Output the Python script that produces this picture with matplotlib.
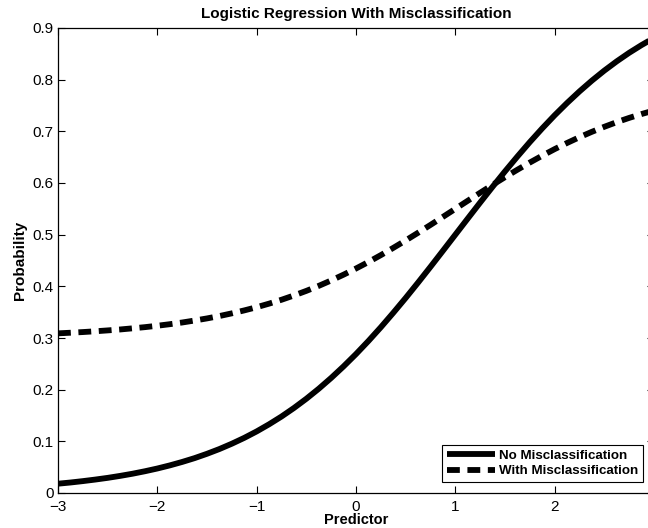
import numpy as np
import matplotlib.pyplot as plt

# predictor grid and the two probability curves
predictor = [-3.0, -2.875, -2.75, -2.625, -2.5, -2.375, -2.25, -2.125,
             -2.0, -1.875, -1.75, -1.625, -1.5, -1.375, -1.25, -1.125,
             -1.0, -0.875, -0.75, -0.625, -0.5, -0.375, -0.25, -0.125,
             0.0, 0.125, 0.25, 0.375, 0.5, 0.625, 0.75, 0.875,
             1.0, 1.125, 1.25, 1.375, 1.5, 1.625, 1.75, 1.875,
             2.0, 2.125, 2.25, 2.375, 2.5, 2.625, 2.75, 2.875, 3.0]
no_miscl = [0.0180, 0.0203, 0.0230, 0.0260, 0.0293, 0.0331, 0.0373, 0.0421,
            0.0474, 0.0534, 0.0601, 0.0675, 0.0759, 0.0851, 0.0954, 0.1067,
            0.1192, 0.1330, 0.1480, 0.1645, 0.1824, 0.2018, 0.2227, 0.2451,
            0.2689, 0.2942, 0.3208, 0.3487, 0.3775, 0.4073, 0.4378, 0.4688,
            0.5000, 0.5312, 0.5622, 0.5927, 0.6225, 0.6513, 0.6792, 0.7058,
            0.7311, 0.7549, 0.7773, 0.7982, 0.8176, 0.8355, 0.8520, 0.8670, 0.8808]
with_miscl = [0.3090, 0.3102, 0.3115, 0.3130, 0.3147, 0.3165, 0.3187, 0.3210,
              0.3237, 0.3267, 0.3300, 0.3338, 0.3379, 0.3425, 0.3477, 0.3534,
              0.3596, 0.3665, 0.3740, 0.3823, 0.3912, 0.4009, 0.4114, 0.4226,
              0.4345, 0.4471, 0.4604, 0.4744, 0.4888, 0.5037, 0.5189, 0.5344,
              0.5500, 0.5656, 0.5811, 0.5964, 0.6113, 0.6257, 0.6396, 0.6529,
              0.6656, 0.6775, 0.6887, 0.6991, 0.7088, 0.7178, 0.7260, 0.7335, 0.7404]

xticks = [-3, -2, -1, 0, 1, 2, 3]
# the "3" label falls outside the cropped picture, so it is left blank
xticklabels = ['\u22123', '\u22122', '\u22121', '0', '1', '2', '']
yticks = [0, 0.1, 0.2, 0.3, 0.4, 0.5, 0.6, 0.7, 0.8, 0.9]
yticklabels = ['0', '0.1', '0.2', '0.3', '0.4', '0.5', '0.6', '0.7', '0.8', '0.9']

plt.rcParams['font.family'] = ['Liberation Sans', 'DejaVu Sans']

fig = plt.figure(figsize=(6.48, 5.28), dpi=100)
# the original is cropped on the right, so the axes run past the figure edge
ax = fig.add_axes([58 / 648, 35 / 528, 596 / 648, 465 / 528])

ax.plot(predictor, no_miscl, color='black', lw=4.2, solid_capstyle='butt',
        label='No Misclassification')
ax.plot(predictor, with_miscl, color='black', lw=4.2, linestyle=(0, (2.2, 1.3)),
        dash_capstyle='butt', label='With Misclassification')

ax.set_xlim(-3, 3)
ax.set_ylim(0, 0.9)
ax.set_xticks(xticks)
ax.set_xticklabels(xticklabels)
ax.set_yticks(yticks)
ax.set_yticklabels(yticklabels)
ax.tick_params(direction='in', top=True, right=True, length=5, width=0.8,
               labelsize=11)
ax.tick_params(axis='x', pad=5)
ax.tick_params(axis='y', pad=3)
for s in ax.spines.values():
    s.set_linewidth(0.9)

ax.set_title('Logistic Regression With Misclassification', fontsize=11,
             fontweight='bold', pad=7)
ax.set_xlabel('Predictor', fontsize=10.5, fontweight='bold', labelpad=-1)
ax.set_ylabel('Probability', fontsize=11, fontweight='bold', labelpad=4)

leg = ax.legend(loc='lower right', bbox_to_anchor=(643 / 648, 46 / 528),
                bbox_transform=fig.transFigure, borderaxespad=0,
                fancybox=False, edgecolor='black', framealpha=1,
                prop={'weight': 'bold', 'size': 9.6}, handlelength=3.6,
                handletextpad=0.3, labelspacing=0.25, borderpad=0.35)
leg.get_frame().set_linewidth(0.8)

plt.savefig('out.png', dpi=100)
